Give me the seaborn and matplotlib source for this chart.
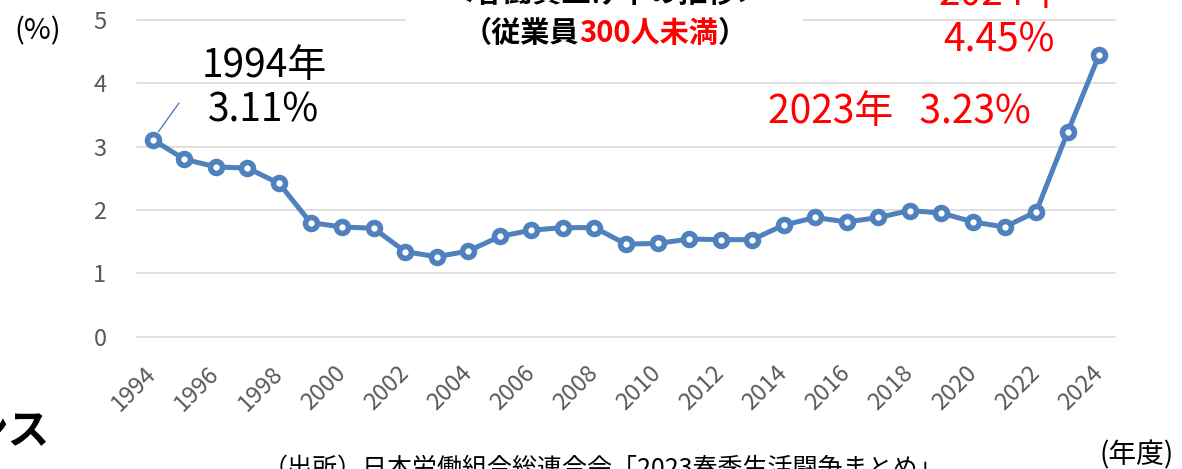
import matplotlib
matplotlib.use("Agg")
import matplotlib.pyplot as plt
import seaborn as sns
import pandas as pd
from matplotlib.patches import Rectangle

# ---- data ----
years = list(range(1994, 2025))
wage_rise = [3.11, 2.80, 2.68, 2.66, 2.42, 1.80, 1.73, 1.71, 1.34, 1.26,
             1.35, 1.58, 1.68, 1.72, 1.72, 1.46, 1.47, 1.54, 1.53, 1.53,
             1.76, 1.88, 1.81, 1.88, 1.99, 1.95, 1.81, 1.73, 1.97, 3.23,
             4.45]
xtick_years = years[::2]
yticks = [0, 1, 2, 3, 4, 5]

title_line1 = "＜春闘賃上げ率の推移＞"
title_line2 = ["（従業員", "300人未満", "）"]
y_unit = "(%)"
x_unit = "(年度)"
source = "（出所）日本労働組合総連合会「2023春季生活闘争まとめ」"
note_1994 = ["1994年", "3.11%"]
note_2023 = "2023年   3.23%"
note_2024 = ["2024年", "4.45%"]
side_text = "ンス"

df = pd.DataFrame({"year": years, "rate": wage_rise})

W, H = 1182, 469
sns.set_theme(style="white")
plt.rcParams["font.family"] = ["Noto Sans CJK JP", "DejaVu Sans"]

fig = plt.figure(figsize=(W / 100, H / 100), dpi=100)
ax = fig.add_axes([137 / W, 1 - 336.5 / H, (1115 - 137) / W, (336.5 - 20) / H])

def px(x, y):
    return x / W, 1 - y / H

blue = "#4F81BD"
sns.lineplot(data=df, x="year", y="rate", ax=ax, color=blue, lw=3.6,
             marker="o", markersize=8.6, markerfacecolor="white",
             markeredgecolor=blue, markeredgewidth=4.0, zorder=5,
             clip_on=False)

ax.set_xlim(1993.5, 2024.5)
ax.set_ylim(0, 5)
ax.set_yticks(yticks)
ax.set_xticks(xtick_years)
ax.set_xticklabels([str(y) for y in xtick_years], rotation=45, ha="right",
                   va="center", rotation_mode="anchor")
ax.tick_params(axis="y", length=0, pad=22, labelsize=17, labelcolor="#595959")
ax.tick_params(axis="x", length=0, pad=24, labelsize=17, labelcolor="#595959")
for s in ax.spines.values():
    s.set_visible(False)
ax.grid(axis="y", color="#D9D9D9", lw=1.2)
for gl in ax.get_ygridlines():
    gl.set_clip_on(False)
ax.set_xlabel("")
ax.set_ylabel("")

# white box behind the title
fig.patches.append(Rectangle(px(406, 50), (803 - 406) / W, 52 / H,
                             transform=fig.transFigure, facecolor="white",
                             edgecolor="none", zorder=2))

# title
fig.text(*px(605, -6), title_line1, ha="center", va="center", fontsize=21,
         fontweight="bold", color="black", zorder=3)
fig.canvas.draw()
renderer = fig.canvas.get_renderer()
colors = ["black", "#FF0000", "black"]
parts = []
for t, c in zip(title_line2, colors):
    parts.append(fig.text(0, 1 - 33 / H, t, ha="left", va="center",
                          fontsize=21, fontweight="bold", color=c, zorder=3))
widths = [p.get_window_extent(renderer).width for p in parts]
x0 = 605 - sum(widths) / 2
for p, w in zip(parts, widths):
    p.set_x(x0 / W)
    x0 += w

# axis unit labels
fig.text(*px(38, 31), y_unit, ha="center", va="center", fontsize=21,
         color="black")
fig.text(*px(1137, 455), x_unit, ha="center", va="center", fontsize=20,
         color="black")

# source and side texts
fig.text(*px(263, 456), source, ha="left", va="top", fontsize=18,
         color="black")
fig.text(*px(49, 432), side_text, ha="right", va="center", fontsize=30,
         fontweight="bold", color="black")

# annotations
fig.text(*px(264, 66), note_1994[0], ha="center", va="center", fontsize=28,
         color="black")
fig.text(*px(263, 111), note_1994[1], ha="center", va="center", fontsize=28,
         color="black")
ax.annotate("", xy=(years[0], wage_rise[0]), xytext=px(179, 103),
            textcoords="figure fraction",
            arrowprops=dict(arrowstyle="-", color=blue, lw=1.0,
                            shrinkA=0, shrinkB=7))
fig.text(*px(899, 112), note_2023, ha="center", va="center", fontsize=28,
         color="#FF0000")
fig.text(*px(1001, -6), note_2024[0], ha="center", va="center", fontsize=28,
         color="#FF0000")
fig.text(*px(999, 41), note_2024[1], ha="center", va="center", fontsize=28,
         color="#FF0000")

fig.savefig("out.png", dpi=100)
